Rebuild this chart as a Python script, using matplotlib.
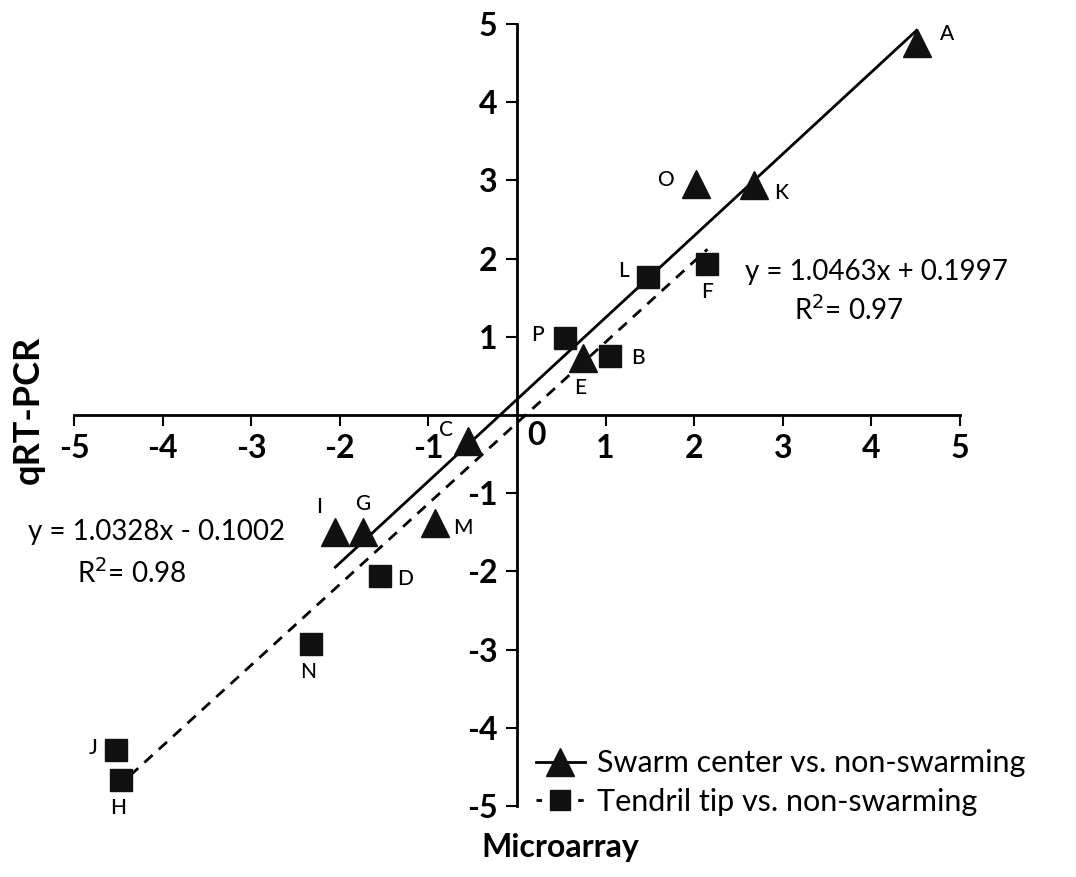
import numpy as np
import matplotlib
matplotlib.use("Agg")
import matplotlib.pyplot as plt
from matplotlib.lines import Line2D

plt.rcParams['font.family'] = ['Lato', 'DejaVu Sans']

# swarm center vs. non-swarming (triangles)
swarm_labels = ["A", "O", "K", "E", "C", "I", "G", "M"]
swarm_x = [4.51, 2.02, 2.67, 0.75, -0.55, -2.05, -1.74, -0.92]
swarm_y = [4.76, 2.95, 2.94, 0.73, -0.33, -1.49, -1.49, -1.38]

# tendril tip vs. non-swarming (squares)
tendril_labels = ["L", "F", "P", "B", "D", "N", "J", "H"]
tendril_x = [1.48, 2.15, 0.54, 1.05, -1.55, -2.33, -4.53, -4.47]
tendril_y = [1.77, 1.93, 0.99, 0.76, -2.06, -2.93, -4.29, -4.67]

# trend lines (slope, intercept)
swarm_fit = (1.0463, 0.1997)
tendril_fit = (1.0328, -0.1002)

ticks = [-5, -4, -3, -2, -1, 1, 2, 3, 4, 5]

fig = plt.figure(figsize=(10.76, 8.77), dpi=100)
ax = fig.add_axes([74 / 1076, (877 - 806) / 877, 886 / 1076, 782 / 877])
ax.set_xlim(-5, 5)
ax.set_ylim(-5, 5)

for s in ["top", "right"]:
    ax.spines[s].set_visible(False)
for s in ["left", "bottom"]:
    ax.spines[s].set_position(("data", 0))
    ax.spines[s].set_linewidth(2)

ax.set_xticks(ticks)
ax.set_yticks(ticks)
ax.set_xticklabels([str(t) for t in ticks])
ax.set_yticklabels([str(t) for t in ticks])
ax.tick_params(direction="out", length=8, width=1.5, labelsize=23, pad=6)
for lab in ax.get_xticklabels() + ax.get_yticklabels():
    lab.set_fontweight("bold")
ax.text(0.12, -0.08, "0", fontsize=23, fontweight="bold", ha="left", va="top")

# fit lines
xs = np.array([min(swarm_x), max(swarm_x)])
ax.plot(xs, swarm_fit[0] * xs + swarm_fit[1], color="black", lw=2, zorder=2)
xt = np.array([min(tendril_x), max(tendril_x)])
ax.plot(xt, tendril_fit[0] * xt + tendril_fit[1], color="black", lw=2,
        ls=(0, (4, 3)), zorder=2)

ax.plot(swarm_x, swarm_y, ls="none", marker="^", ms=20, color="#111111", zorder=3)
ax.plot(tendril_x, tendril_y, ls="none", marker="s", ms=16, color="#111111", zorder=3)

# point labels (offsets in points)
offsets = {
    "A": (22, 6), "O": (-22, 3), "K": (20, -6), "E": (-2, -22), "C": (-16, 8),
    "I": (-12, 18), "G": (0, 20), "M": (20, -4),
    "L": (-18, 4), "F": (0, -20), "P": (-20, 2), "B": (20, -2), "D": (18, -2),
    "N": (-2, -20), "J": (-16, 2), "H": (-2, -20),
}
for lab, x, y in zip(swarm_labels + tendril_labels, swarm_x + tendril_x,
                     swarm_y + tendril_y):
    dx, dy = offsets[lab]
    ax.annotate(lab, (x, y), xytext=(dx, dy), textcoords="offset points",
                ha="center", va="center", fontsize=15, fontweight="medium")

ax.text(2.57, 1.83, "y = 1.0463x + 0.1997", fontsize=20, ha="left", va="center")
ax.text(3.13, 1.34, "R$^2$= 0.97", fontsize=20, ha="left", va="center")
ax.text(-5.52, -1.50, "y = 1.0328x - 0.1002", fontsize=20, ha="left", va="center")
ax.text(-4.97, -2.02, "R$^2$= 0.98", fontsize=20, ha="left", va="center")

fig.text(28 / 1076, 1 - 410 / 877, "qRT-PCR", rotation=90, fontsize=26,
         fontweight="bold", ha="center", va="center")
fig.text(560 / 1076, 1 - 848 / 877, "Microarray", fontsize=23,
         fontweight="bold", ha="center", va="center")

handles = [
    Line2D([], [], color="black", lw=2, marker="^", ms=20, mfc="#111111",
           mec="#111111"),
    Line2D([], [], color="black", lw=2, ls=(0, (2, 3)), marker="s", ms=14,
           mfc="#111111", mec="#111111"),
]
ax.legend(handles, ["Swarm center vs. non-swarming", "Tendril tip vs. non-swarming"],
          loc="lower left", bbox_to_anchor=(0.49, -0.048), frameon=False,
          fontsize=22, handlelength=1.6, handletextpad=0.4, labelspacing=0.35)

fig.savefig("out.png", dpi=100)
